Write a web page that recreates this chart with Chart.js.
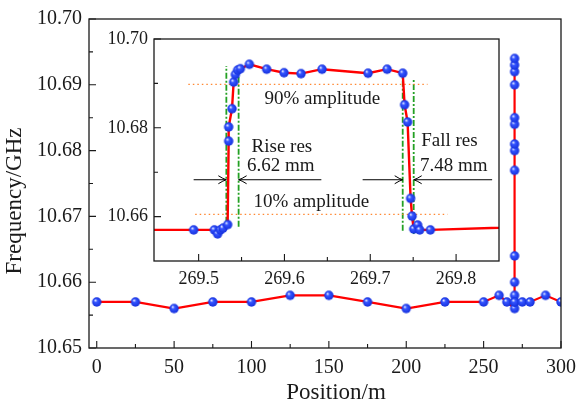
<!DOCTYPE html>
<html>
<head>
<meta charset="utf-8">
<script src="https://cdn.jsdelivr.net/npm/chart.js@4.4.0/dist/chart.umd.min.js"></script>
<style>
  body { margin: 0; background: #fff; }
  #wrap { position: relative; width: 584px; height: 408px; }
  #wrap canvas { position: absolute; left: 0; top: 0; }
</style>
</head>
<body>
<div id="wrap">
  <canvas id="mainChart" width="584" height="408"></canvas>
  <canvas id="insetChart" width="584" height="408"></canvas>
</div>
<script>
// ---- main chart data ----
const posX = [0, 25, 50, 75, 100, 125, 150, 175, 200, 225, 250, 260, 265,
  270, 270, 270, 270, 270, 270, 270, 270, 270, 270, 270, 270, 270, 270,
  270, 275, 280, 290, 300];
const freq = [10.657, 10.657, 10.656, 10.657, 10.657, 10.658, 10.658, 10.657, 10.656, 10.657, 10.657, 10.658, 10.657,
  10.656, 10.657, 10.658, 10.660, 10.664, 10.677, 10.680, 10.681, 10.684, 10.685, 10.690, 10.692, 10.693, 10.694,
  10.657, 10.657, 10.657, 10.658, 10.657];
const mainXLabels = [0, 50, 100, 150, 200, 250, 300];
const mainXMinor = [25, 75, 125, 175, 225, 275];
const mainYLabels = [10.65, 10.66, 10.67, 10.68, 10.69, 10.70];
const mainYMinor = [10.655, 10.665, 10.675, 10.685, 10.695];

// ---- inset (zoom around 269.5 - 269.8 m) ----
const zoomX = [269.40, 269.4942, 269.5183, 269.5221, 269.5253, 269.5284, 269.5338,
  269.535, 269.535, 269.5389, 269.5408, 269.5428, 269.5455, 269.5486, 269.5591,
  269.5793, 269.5995, 269.6193, 269.6438, 269.6974, 269.7196, 269.7378,
  269.740, 269.7435, 269.747, 269.7487, 269.7506, 269.7552, 269.7576, 269.770, 269.95];
const zoomY = [10.6570, 10.6570, 10.6570, 10.6561, 10.6570, 10.6574, 10.6582,
  10.6770, 10.6802, 10.6843, 10.6903, 10.6920, 10.6930, 10.6933, 10.6943,
  10.6932, 10.6924, 10.6922, 10.6932, 10.6923, 10.6932, 10.6923,
  10.6852, 10.6813, 10.6641, 10.6601, 10.6572, 10.6581, 10.6570, 10.6570, 10.6581];
const insetXLabels = [269.5, 269.6, 269.7, 269.8];
const insetXMinor = [269.55, 269.65, 269.75];
const insetYLabels = [10.66, 10.68, 10.70];
const insetYMinor = [10.67, 10.69];

// amplitude levels and their extent
const level90 = 10.6898, level90Span = [269.488, 269.7667];
const level10 = 10.6605, level10Span = [269.496, 269.790];
// edge markers: x, y-from, y-to
const edgeLines = [
  [269.5323, 10.6586, 10.6939],
  [269.5466, 10.6577, 10.6925],
  [269.7378, 10.6568, 10.6920],
  [269.7506, 10.6561, 10.6911]
];
const arrowLevel = 10.6683;
const arrowSpans = [[269.4942, 269.5323], [269.643, 269.5466], [269.6911, 269.7378], [269.842, 269.7506]];
const insetTexts = [
  ['90% amplitude', 269.6441, 10.6864],
  ['10% amplitude', 269.6313, 10.6632],
  ['Rise res', 269.5970, 10.6757],
  ['6.62 mm', 269.5958, 10.6714],
  ['Fall res', 269.7922, 10.6770],
  ['7.48 mm', 269.7974, 10.6714]
];

const serif = "'Liberation Serif', 'DejaVu Serif', serif";
const inkColor = '#1a1a1a';

function makeBall(r) {
  const c = document.createElement('canvas');
  const s = Math.ceil(r * 2 + 2);
  c.width = c.height = s;
  const g = c.getContext('2d');
  const cx = s / 2, cy = s / 2;
  const grad = g.createRadialGradient(cx - r * 0.35, cy - r * 0.4, 0, cx, cy, r);
  grad.addColorStop(0, '#ffffff');
  grad.addColorStop(0.15, '#b4c2ff');
  grad.addColorStop(0.38, '#3454ff');
  grad.addColorStop(1, '#1530dc');
  g.fillStyle = grad;
  g.beginPath();
  g.arc(cx, cy, r, 0, Math.PI * 2);
  g.fill();
  return c;
}
const ball = makeBall(4.7);

function pairs(xs, ys) {
  return xs.map((x, i) => ({ x: x, y: ys[i] }));
}

// frame, inward ticks, free text
const framePlugin = {
  id: 'frame',
  afterDraw(chart, args, opts) {
    const { ctx, chartArea: a } = chart;
    const sx = chart.scales.x, sy = chart.scales.y;
    ctx.save();
    ctx.strokeStyle = inkColor;
    ctx.lineWidth = 1.3;
    ctx.strokeRect(a.left, a.top, a.right - a.left, a.bottom - a.top);
    ctx.lineWidth = 1.1;
    ctx.beginPath();
    const tick = (vals, len, isX) => vals.forEach(v => {
      if (isX) {
        const px = sx.getPixelForValue(v);
        ctx.moveTo(px, a.bottom); ctx.lineTo(px, a.bottom - len);
      } else {
        const py = sy.getPixelForValue(v);
        ctx.moveTo(a.left, py); ctx.lineTo(a.left + len, py);
      }
    });
    tick(opts.xMajor, 7, true);
    tick(opts.xMinor, 4, true);
    tick(opts.yMajor, 7, false);
    tick(opts.yMinor, 4, false);
    ctx.stroke();

    ctx.fillStyle = inkColor;
    ctx.textAlign = 'center';
    ctx.textBaseline = 'middle';
    (opts.texts || []).forEach(t => {
      ctx.font = t.font;
      if (t.rotate) {
        ctx.save();
        ctx.translate(t.px, t.py);
        ctx.rotate(-Math.PI / 2);
        ctx.fillText(t.text, 0, 0);
        ctx.restore();
      } else {
        const px = t.px !== undefined ? t.px : sx.getPixelForValue(t.x);
        const py = t.py !== undefined ? t.py : sy.getPixelForValue(t.y);
        ctx.fillText(t.text, px, py);
      }
    });
    ctx.restore();
  }
};

// open arrow tips at the end point of the arrow datasets
const arrowPlugin = {
  id: 'arrowTips',
  afterDatasetsDraw(chart) {
    const ctx = chart.ctx;
    ctx.save();
    ctx.strokeStyle = '#000';
    ctx.lineWidth = 1;
    chart.data.datasets.forEach((ds, i) => {
      if (!ds.isArrow) return;
      const pts = chart.getDatasetMeta(i).data;
      const p0 = pts[0], p1 = pts[1];
      const dir = Math.sign(p1.x - p0.x);
      ctx.beginPath();
      ctx.moveTo(p1.x - dir * 8, p1.y - 4);
      ctx.quadraticCurveTo(p1.x - dir * 3, p1.y - 0.8, p1.x, p1.y);
      ctx.quadraticCurveTo(p1.x - dir * 3, p1.y + 0.8, p1.x - dir * 8, p1.y + 4);
      ctx.stroke();
    });
    ctx.restore();
  }
};

function axis(min, max, labels, fontSize, pad, fmt, fit) {
  return {
    type: 'linear',
    min: min,
    max: max,
    grid: { display: false, drawTicks: false },
    border: { display: false },
    afterBuildTicks: s => { s.ticks = labels.map(v => ({ value: v })); },
    afterFit: fit,
    ticks: {
      autoSkip: false,
      maxRotation: 0,
      padding: pad,
      color: inkColor,
      font: { family: serif, size: fontSize },
      callback: v => fmt(v)
    }
  };
}

new Chart(document.getElementById('mainChart'), {
  type: 'line',
  data: {
    datasets: [{
      data: pairs(posX, freq),
      borderColor: '#ff0000',
      borderWidth: 2.2,
      pointStyle: ball,
      pointRadius: 4.7,
      tension: 0
    }]
  },
  options: {
    responsive: false,
    animation: false,
    events: [],
    layout: { padding: { left: 30, top: 14, right: 16, bottom: 0 } },
    plugins: {
      legend: { display: false },
      tooltip: { enabled: false },
      frame: {
        xMajor: mainXLabels, xMinor: mainXMinor,
        yMajor: mainYLabels, yMinor: mainYMinor,
        texts: [
          { text: 'Position/m', px: 336, py: 393, font: '23px ' + serif },
          { text: 'Frequency/GHz', px: 15, py: 201, rotate: true, font: '23px ' + serif }
        ]
      }
    },
    scales: {
      x: axis(-5, 300, mainXLabels, 20, 8, v => String(v), s => { s.height = 60; }),
      y: axis(10.65, 10.70, mainYLabels, 20, 7, v => v.toFixed(2), s => { s.width = 59; })
    }
  },
  plugins: [framePlugin]
});

const insetSets = [{
  data: pairs(zoomX, zoomY),
  borderColor: '#ff0000',
  borderWidth: 2.4,
  pointStyle: ball,
  pointRadius: 4.7,
  tension: 0
}];
[[level90, level90Span], [level10, level10Span]].forEach(([lv, span]) => {
  insetSets.push({
    data: [{ x: span[0], y: lv }, { x: span[1], y: lv }],
    borderColor: '#ff8833',
    borderWidth: 1.3,
    borderDash: [1.5, 3],
    pointRadius: 0
  });
});
edgeLines.forEach(([x, y0, y1]) => {
  insetSets.push({
    data: [{ x: x, y: y0 }, { x: x, y: y1 }],
    borderColor: '#23a023',
    borderWidth: 1.8,
    borderDash: [6, 2, 2, 2],
    pointRadius: 0
  });
});
arrowSpans.forEach(([x0, x1]) => {
  insetSets.push({
    isArrow: true,
    data: [{ x: x0, y: arrowLevel }, { x: x1, y: arrowLevel }],
    borderColor: '#000',
    borderWidth: 1,
    pointRadius: 0
  });
});

new Chart(document.getElementById('insetChart'), {
  type: 'line',
  data: { datasets: insetSets },
  options: {
    responsive: false,
    animation: false,
    events: [],
    layout: { padding: { left: 100, top: 39, right: 85, bottom: 117 } },
    plugins: {
      legend: { display: false },
      tooltip: { enabled: false },
      frame: {
        xMajor: insetXLabels, xMinor: insetXMinor,
        yMajor: insetYLabels, yMinor: insetYMinor,
        texts: insetTexts.map(([text, x, y]) => ({ text: text, x: x, y: y, font: '19px ' + serif }))
      }
    },
    scales: {
      x: axis(269.448, 269.85, insetXLabels, 18, 7, v => v.toFixed(1), s => { s.height = 30; }),
      y: axis(10.65, 10.70, insetYLabels, 18, 6, v => v.toFixed(2), s => { s.width = 54; })
    }
  },
  plugins: [framePlugin, arrowPlugin]
});
</script>
</body>
</html>
